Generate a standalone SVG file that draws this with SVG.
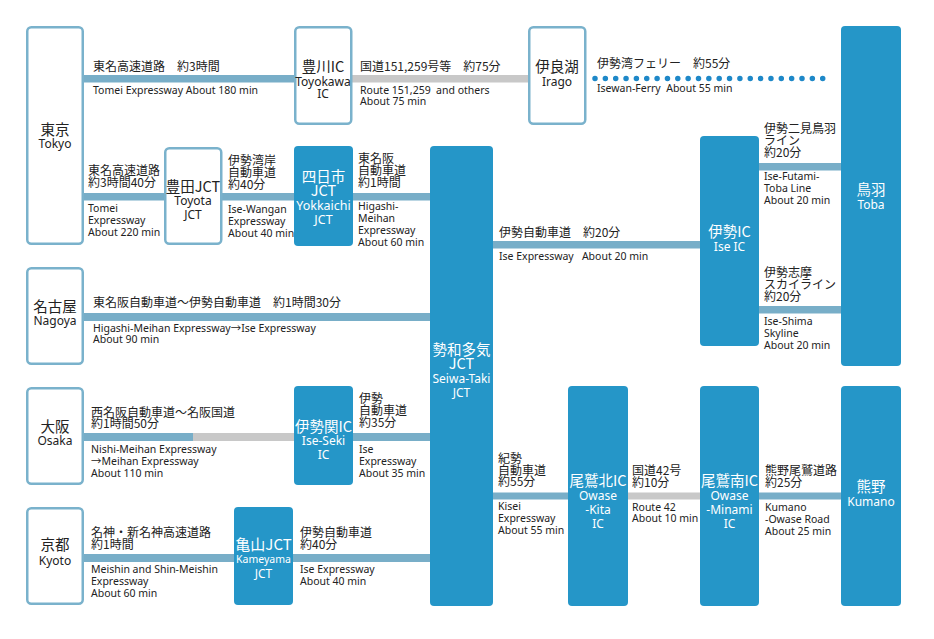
<svg xmlns="http://www.w3.org/2000/svg" width="934" height="639" viewBox="0 0 934 639">
<style>
.ob{fill:#fff;stroke:#7ab2cc;stroke-width:2.5}
.fb{fill:#2596c8}
.ln{fill:#78aec8}
.gl{fill:#c8c8c8}
.jp{font-family:"Noto Sans CJK JP","Noto Sans",sans-serif;font-size:12px;fill:#222}
.en{font-family:"Noto Sans","Noto Sans CJK JP",sans-serif;font-size:10.5px;fill:#222;white-space:pre}
.nj{font-family:"Noto Sans CJK JP","Noto Sans",sans-serif;font-size:14.5px;text-anchor:middle;fill:#222}
.ne{font-family:"Noto Sans","Noto Sans CJK JP",sans-serif;font-size:12px;text-anchor:middle;fill:#222}
.w{fill:#fff}
</style>
<rect width="934" height="639" fill="#fff"/>
<g id="connectors">
  <rect class="ln" x="84" y="75" width="210" height="7.5"/>
  <rect class="gl" x="352" y="75" width="176" height="7.5"/>
  <line x1="595" y1="78.5" x2="833" y2="78.5" stroke="#1e88c8" stroke-width="5.5" stroke-linecap="round" stroke-dasharray="0 10.35"/>
  <rect class="ln" x="84" y="193" width="80" height="7.5"/>
  <rect class="ln" x="222" y="193" width="72" height="7.5"/>
  <rect class="ln" x="353" y="193" width="77" height="7.5"/>
  <rect class="ln" x="84" y="313" width="346" height="8"/>
  <rect class="ln" x="84" y="433" width="109" height="8"/>
  <rect class="gl" x="193" y="433" width="101" height="8"/>
  <rect class="ln" x="353" y="433" width="77" height="8"/>
  <rect class="ln" x="84" y="554" width="150" height="8"/>
  <rect class="ln" x="293" y="554" width="137" height="8"/>
  <rect class="ln" x="493" y="241" width="207" height="7.5"/>
  <rect class="ln" x="759" y="163" width="82" height="7.5"/>
  <rect class="ln" x="759" y="306" width="82" height="7.5"/>
  <rect class="ln" x="493" y="492.5" width="75" height="7"/>
  <rect class="gl" x="628" y="492.5" width="72" height="7"/>
  <rect class="ln" x="759" y="492.5" width="82" height="7"/>

  <text class="jp" x="93" y="71">東名高速道路　約3時間</text>
  <text class="en" x="93" y="94">Tomei Expressway About 180 min</text>

  <text class="jp" x="360" y="71">国道151,259号等　約75分</text>
  <text class="en" x="360" y="94">Route 151,259  and others</text>
  <text class="en" x="360" y="105">About 75 min</text>

  <text class="jp" x="597" y="68">伊勢湾フェリー　約55分</text>
  <text class="en" x="597" y="92">Isewan-Ferry  About 55 min</text>

  <text class="jp" x="88" y="175">東名高速道路</text>
  <text class="jp" x="88" y="187">約3時間40分</text>
  <text class="en" x="88" y="212">Tomei</text>
  <text class="en" x="88" y="224">Expressway</text>
  <text class="en" x="88" y="236">About 220 min</text>

  <text class="jp" x="228" y="165">伊勢湾岸</text>
  <text class="jp" x="228" y="177">自動車道</text>
  <text class="jp" x="228" y="189">約40分</text>
  <text class="en" x="228" y="213">Ise-Wangan</text>
  <text class="en" x="228" y="225">Expressway</text>
  <text class="en" x="228" y="237">About 40 min</text>

  <text class="jp" x="358" y="163">東名阪</text>
  <text class="jp" x="358" y="175">自動車道</text>
  <text class="jp" x="358" y="187">約1時間</text>
  <text class="en" x="358" y="210">Higashi-</text>
  <text class="en" x="358" y="222">Meihan</text>
  <text class="en" x="358" y="234">Expressway</text>
  <text class="en" x="358" y="246">About 60 min</text>

  <text class="jp" x="93" y="307">東名阪自動車道〜伊勢自動車道　約1時間30分</text>
  <text class="en" x="93" y="332">Higashi-Meihan Expressway→Ise Expressway</text>
  <text class="en" x="93" y="343">About 90 min</text>

  <text class="jp" x="91" y="417">西名阪自動車道〜名阪国道</text>
  <text class="jp" x="91" y="428">約1時間50分</text>
  <text class="en" x="91" y="453">Nishi-Meihan Expressway</text>
  <text class="en" x="91" y="465">→Meihan Expressway</text>
  <text class="en" x="91" y="477">About 110 min</text>

  <text class="jp" x="359" y="403">伊勢</text>
  <text class="jp" x="359" y="415">自動車道</text>
  <text class="jp" x="359" y="427">約35分</text>
  <text class="en" x="359" y="453">Ise</text>
  <text class="en" x="359" y="465">Expressway</text>
  <text class="en" x="359" y="477">About 35 min</text>

  <text class="jp" x="91" y="537">名神・新名神高速道路</text>
  <text class="jp" x="91" y="549">約1時間</text>
  <text class="en" x="91" y="573">Meishin and Shin-Meishin</text>
  <text class="en" x="91" y="585">Expressway</text>
  <text class="en" x="91" y="597">About 60 min</text>

  <text class="jp" x="300" y="537">伊勢自動車道</text>
  <text class="jp" x="300" y="549">約40分</text>
  <text class="en" x="300" y="573">Ise Expressway</text>
  <text class="en" x="300" y="585">About 40 min</text>

  <text class="jp" x="499" y="237">伊勢自動車道　約20分</text>
  <text class="en" x="499" y="260">Ise Expressway   About 20 min</text>

  <text class="jp" x="764" y="133">伊勢二見鳥羽</text>
  <text class="jp" x="764" y="145">ライン</text>
  <text class="jp" x="764" y="157">約20分</text>
  <text class="en" x="764" y="180">Ise-Futami-</text>
  <text class="en" x="764" y="192">Toba Line</text>
  <text class="en" x="764" y="204">About 20 min</text>

  <text class="jp" x="764" y="277">伊勢志摩</text>
  <text class="jp" x="764" y="289">スカイライン</text>
  <text class="jp" x="764" y="301">約20分</text>
  <text class="en" x="764" y="325">Ise-Shima</text>
  <text class="en" x="764" y="337">Skyline</text>
  <text class="en" x="764" y="349">About 20 min</text>

  <text class="jp" x="498" y="463">紀勢</text>
  <text class="jp" x="498" y="475">自動車道</text>
  <text class="jp" x="498" y="486">約55分</text>
  <text class="en" x="498" y="510">Kisei</text>
  <text class="en" x="498" y="522">Expressway</text>
  <text class="en" x="498" y="534">About 55 min</text>

  <text class="jp" x="632" y="475">国道42号</text>
  <text class="jp" x="632" y="487">約10分</text>
  <text class="en" x="632" y="511">Route 42</text>
  <text class="en" x="632" y="522">About 10 min</text>

  <text class="jp" x="765" y="475">熊野尾鷲道路</text>
  <text class="jp" x="765" y="487">約25分</text>
  <text class="en" x="765" y="511">Kumano</text>
  <text class="en" x="765" y="523">-Owase Road</text>
  <text class="en" x="765" y="535">About 25 min</text>
</g>

<g id="tokyo">
  <rect class="ob" x="27.25" y="27.25" width="55.5" height="216.5" rx="4"/>
  <text class="nj" x="55" y="135">東京</text>
  <text class="ne" x="55" y="148">Tokyo</text>
</g>
<g id="toyokawa">
  <rect class="ob" x="295.25" y="27.25" width="56" height="96.5" rx="4"/>
  <text class="nj" x="323" y="72">豊川IC</text>
  <text class="ne" x="323" y="86">Toyokawa</text>
  <text class="ne" x="323" y="98">IC</text>
</g>
<g id="irago">
  <rect class="ob" x="529.25" y="27.25" width="56" height="96.5" rx="4"/>
  <text class="nj" x="557" y="72">伊良湖</text>
  <text class="ne" x="557" y="86">Irago</text>
</g>
<g id="toba">
  <rect class="fb" x="841" y="26" width="60" height="340" rx="4"/>
  <text class="nj w" x="871" y="195">鳥羽</text>
  <text class="ne w" x="871" y="209">Toba</text>
</g>
<g id="toyota">
  <rect class="ob" x="165.25" y="148.25" width="56" height="95.5" rx="4"/>
  <text class="nj" x="193" y="192">豊田JCT</text>
  <text class="ne" x="193" y="205">Toyota</text>
  <text class="ne" x="193" y="219">JCT</text>
</g>
<g id="yokkaichi">
  <rect class="fb" x="294" y="146" width="59" height="100" rx="4"/>
  <text class="nj w" x="323.5" y="182">四日市</text>
  <text class="nj w" x="323.5" y="196">JCT</text>
  <text class="ne w" x="323.5" y="210" style="font-size:12.5px">Yokkaichi</text>
  <text class="ne w" x="323.5" y="224" style="font-size:12.5px">JCT</text>
</g>
<g id="seiwa-taki">
  <rect class="fb" x="430" y="146" width="63" height="460" rx="4"/>
  <text class="nj w" x="461.5" y="355">勢和多気</text>
  <text class="nj w" x="461.5" y="369">JCT</text>
  <text class="ne w" x="461.5" y="383">Seiwa-Taki</text>
  <text class="ne w" x="461.5" y="397">JCT</text>
</g>
<g id="ise-ic">
  <rect class="fb" x="700" y="136" width="59" height="210" rx="4"/>
  <text class="nj w" x="729.5" y="237">伊勢IC</text>
  <text class="ne w" x="729.5" y="251">Ise IC</text>
</g>
<g id="nagoya">
  <rect class="ob" x="27.25" y="268.25" width="55.5" height="95.5" rx="4"/>
  <text class="nj" x="55" y="312">名古屋</text>
  <text class="ne" x="55" y="325">Nagoya</text>
</g>
<g id="osaka">
  <rect class="ob" x="27.25" y="388.25" width="55.5" height="95.5" rx="4"/>
  <text class="nj" x="55" y="432">大阪</text>
  <text class="ne" x="55" y="445">Osaka</text>
</g>
<g id="ise-seki">
  <rect class="fb" x="294" y="386" width="59" height="99" rx="4"/>
  <text class="nj w" x="323.5" y="432">伊勢関IC</text>
  <text class="ne w" x="323.5" y="445">Ise-Seki</text>
  <text class="ne w" x="323.5" y="459">IC</text>
</g>
<g id="kyoto">
  <rect class="ob" x="27.25" y="508.25" width="55.5" height="95.5" rx="4"/>
  <text class="nj" x="55" y="550">京都</text>
  <text class="ne" x="55" y="565">Kyoto</text>
</g>
<g id="kameyama">
  <rect class="fb" x="234" y="507" width="59" height="98" rx="4"/>
  <text class="nj w" x="263.5" y="550" style="font-size:15px">亀山JCT</text>
  <text class="ne w" x="263.5" y="563" style="font-size:10.5px">Kameyama</text>
  <text class="ne w" x="263.5" y="578">JCT</text>
</g>
<g id="owase-kita">
  <rect class="fb" x="568" y="386" width="60" height="220" rx="4"/>
  <text class="nj w" x="598" y="486">尾鷲北IC</text>
  <text class="ne w" x="598" y="500">Owase</text>
  <text class="ne w" x="598" y="514">-Kita</text>
  <text class="ne w" x="598" y="528">IC</text>
</g>
<g id="owase-minami">
  <rect class="fb" x="700" y="386" width="59" height="220" rx="4"/>
  <text class="nj w" x="729.5" y="486">尾鷲南IC</text>
  <text class="ne w" x="729.5" y="500">Owase</text>
  <text class="ne w" x="729.5" y="514">-Minami</text>
  <text class="ne w" x="729.5" y="528">IC</text>
</g>
<g id="kumano">
  <rect class="fb" x="841" y="386" width="60" height="220" rx="4"/>
  <text class="nj w" x="871" y="492">熊野</text>
  <text class="ne w" x="871" y="506">Kumano</text>
</g>
</svg>
